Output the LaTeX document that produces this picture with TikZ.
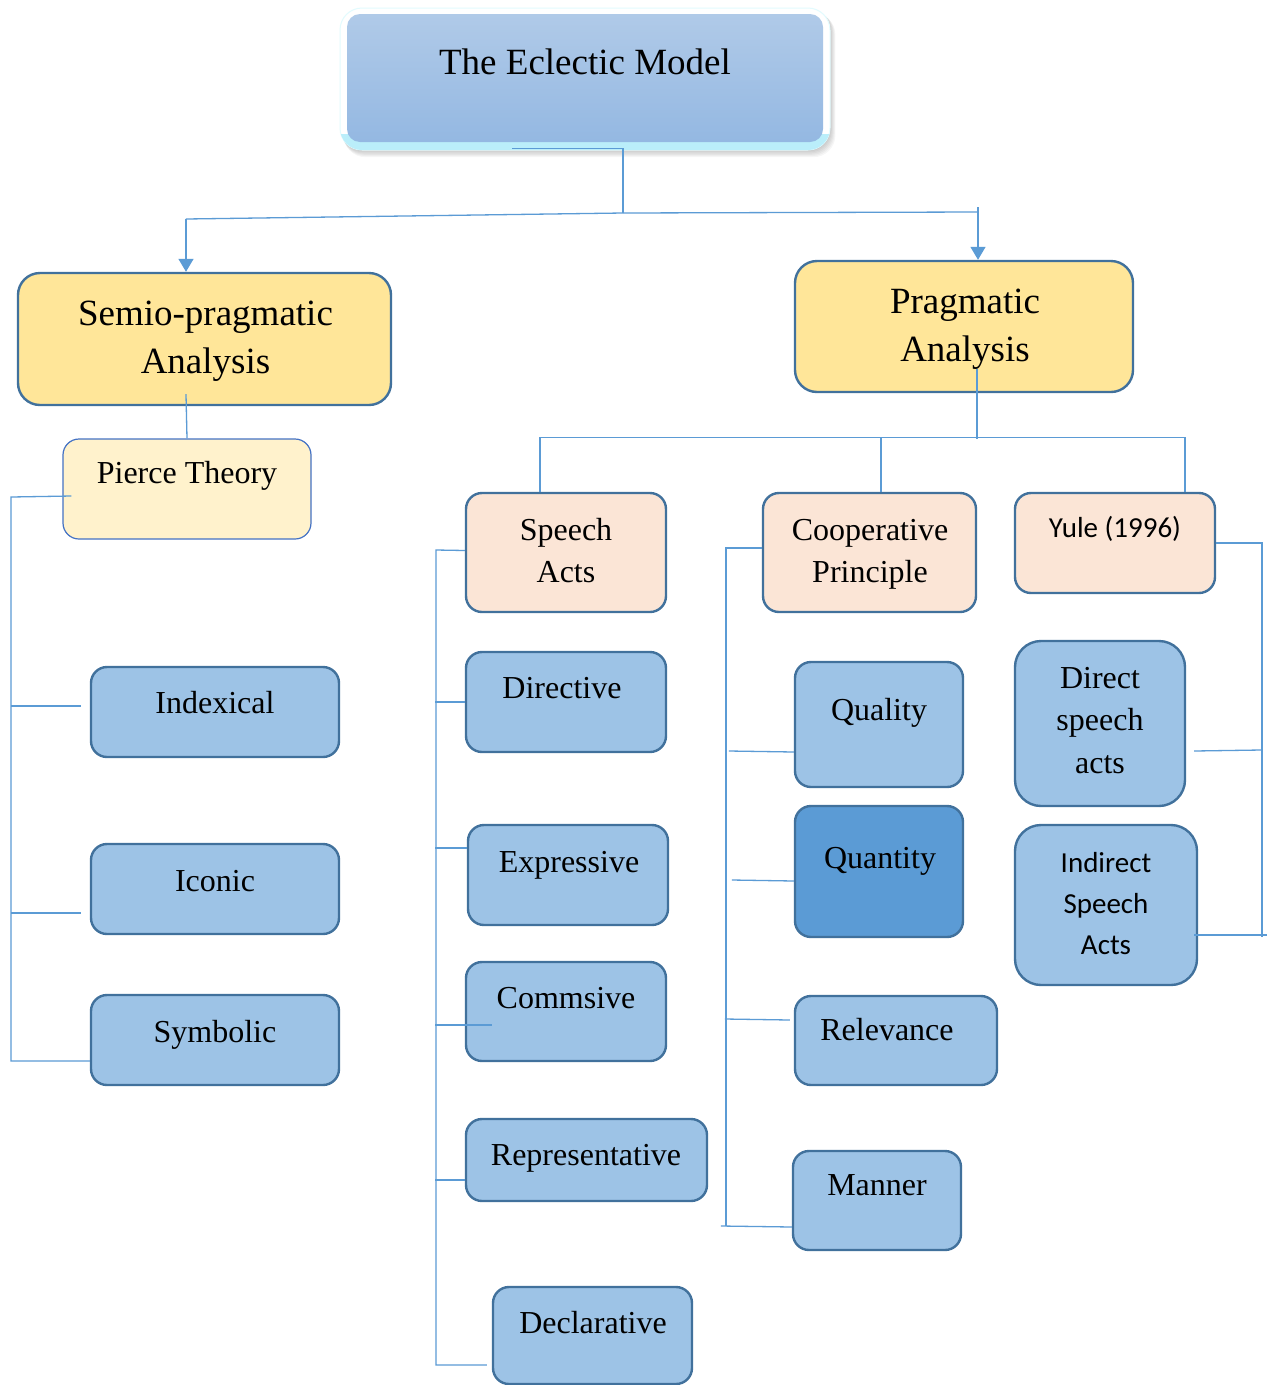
\documentclass[tikz,border=0pt]{standalone}
\usepackage{fontspec}
\setmainfont{Liberation Serif}
\newfontfamily\carl{Carlito}
\usetikzlibrary{arrows.meta,calc}
\definecolor{bordc}{HTML}{41719C}
\definecolor{linec}{HTML}{5B9BD5}
\definecolor{yellowc}{HTML}{FFE699}
\definecolor{lightyellowc}{HTML}{FFF2CC}
\definecolor{peachc}{HTML}{FBE5D6}
\definecolor{bluec}{HTML}{9DC3E6}
\definecolor{darkc}{HTML}{5B9BD5}
\definecolor{piercec}{HTML}{4472C4}
\definecolor{gradtop}{HTML}{B0CAE8}
\definecolor{gradbot}{HTML}{94B8E2}
\definecolor{glowc}{HTML}{E2FBFE}
\definecolor{glowbot}{HTML}{BAEEFA}
\tikzset{
  conn/.style={draw=linec, line width=1.3pt},
  arr/.style={conn, -{Triangle[width=15pt,length=13pt]}},
  boxbase/.style={draw=bordc, line width=2.4pt, rounded corners=16pt, inner sep=0pt},
  yellowbox/.style={boxbase, fill=yellowc, rounded corners=22pt},
  peachbox/.style={boxbase, fill=peachc},
  bluebox/.style={boxbase, fill=bluec},
  darkbox/.style={boxbase, fill=darkc},
  roundbox/.style={boxbase, fill=bluec, rounded corners=26pt},
  piercebox/.style={draw=piercec, line width=1.2pt, rounded corners=16pt, fill=lightyellowc, inner sep=0pt},
  bigtxt/.style={font=\fontsize{37}{48.5}\selectfont, anchor=base, inner sep=0pt},
  midtxt/.style={font=\fontsize{32}{42.5}\selectfont, anchor=base, inner sep=0pt},
  sanstxt/.style={font=\carl\fontsize{29}{41}\selectfont, anchor=base, inner sep=0pt},
}
\begin{document}
\begin{tikzpicture}[x=1pt,y=-1pt]
\fill[white] (0,0) rectangle (1269,1385);
\useasboundingbox (0,0) rectangle (1269,1385);
\begin{scope}
\clip (0,0) rectangle (1269,1385);

% ---------- top box ----------
\foreach \d in {1,2,3,4,5,6}{
  \fill[black, opacity=0.035, rounded corners=22pt] (340+0.6*\d,8+0.8*\d) rectangle (830+0.9*\d,150+1.2*\d);
}
\node[rounded corners=22pt, fill=white, draw=glowc, line width=1pt, minimum width=490pt, minimum height=142pt, inner sep=0pt] (top) at (585,79) {};
\begin{scope}
  \clip[rounded corners=22pt] (340,8) rectangle (830,150);
  \fill[glowbot] (340,134) rectangle (830,150);
\end{scope}
\node[rounded corners=13pt, top color=gradtop, bottom color=gradbot, minimum width=476pt, minimum height=128pt, inner sep=0pt] (topin) at (585,78) {};
\node[bigtxt] (ttop) at (585,74) {The Eclectic Model};

% ---------- level 1 ----------
\node[yellowbox, minimum width=373pt, minimum height=132pt] (semio) at (204.5,339) {};
\node[bigtxt] (tsemio) at (205.5,325) {\begin{tabular}[t]{@{}c@{}}Semio-pragmatic\\Analysis\end{tabular}};
\node[yellowbox, minimum width=338pt, minimum height=131pt] (prag) at (964,326.5) {};
\node[bigtxt] (tprag) at (965,313) {\begin{tabular}[t]{@{}c@{}}Pragmatic\\Analysis\end{tabular}};

% ---------- level 2 ----------
\node[piercebox, minimum width=248pt, minimum height=100pt] (pierce) at (187,489) {};
\node[midtxt] (tpierce) at (187,483) {Pierce Theory};
\node[peachbox, minimum width=200pt, minimum height=119pt] (speech) at (566,552.5) {};
\node[midtxt] (tspeech) at (566,540) {\begin{tabular}[t]{@{}c@{}}Speech\\Acts\end{tabular}};
\node[peachbox, minimum width=213pt, minimum height=119pt] (coop) at (869.5,552.5) {};
\node[midtxt] (tcoop) at (870,540) {\begin{tabular}[t]{@{}c@{}}Cooperative\\Principle\end{tabular}};
\node[peachbox, minimum width=200pt, minimum height=100pt] (yule) at (1115,543) {};
\node[sanstxt] (tyule) at (1115,537) {Yule (1996)};

% ---------- Pierce children ----------
\node[bluebox, minimum width=248pt, minimum height=90pt] (idx) at (215,712) {};
\node[midtxt] at (215,713) {Indexical};
\node[bluebox, minimum width=248pt, minimum height=90pt] (ico) at (215,889) {};
\node[midtxt] at (215,891) {Iconic};
\node[bluebox, minimum width=248pt, minimum height=90pt] (sym) at (215,1040) {};
\node[midtxt] at (215,1042) {Symbolic};

% ---------- Speech act children ----------
\node[bluebox, minimum width=200pt, minimum height=100pt] (dir) at (566,702) {};
\node[midtxt] at (562,698) {Directive};
\node[bluebox, minimum width=200pt, minimum height=100pt] (exp) at (568,875) {};
\node[midtxt] at (569,872) {Expressive};
\node[bluebox, minimum width=200pt, minimum height=99pt] (com) at (566,1011.5) {};
\node[midtxt] at (566,1008) {Commsive};
\node[bluebox, minimum width=241pt, minimum height=82pt] (rep) at (586.5,1160) {};
\node[midtxt] at (586,1165) {Representative};
\node[bluebox, minimum width=199pt, minimum height=97pt] (dec) at (592.5,1335.5) {};
\node[midtxt] at (593,1333) {Declarative};

% ---------- Cooperative children ----------
\node[bluebox, minimum width=168pt, minimum height=125pt] (qual) at (879,724.5) {};
\node[midtxt] at (879,720) {Quality};
\node[darkbox, minimum width=168pt, minimum height=131pt] (quan) at (879,871.5) {};
\node[midtxt] at (880,868) {Quantity};
\node[bluebox, minimum width=202pt, minimum height=89pt] (rel) at (896,1040.5) {};
\node[midtxt] at (887,1040) {Relevance};
\node[bluebox, minimum width=168pt, minimum height=99pt] (man) at (877,1200.5) {};
\node[midtxt] at (877,1195) {Manner};

% ---------- Yule children ----------
\node[roundbox, minimum width=170pt, minimum height=165pt] (dsa) at (1100,723.5) {};
\node[midtxt] at (1100,688) {\begin{tabular}[t]{@{}c@{}}Direct\\speech\\acts\end{tabular}};
\node[roundbox, minimum width=182pt, minimum height=160pt] (isa) at (1106,905) {};
\node[sanstxt] at (1106,872) {\begin{tabular}[t]{@{}c@{}}Indirect\\Speech\\Acts\end{tabular}};

% ---------- connectors ----------
\coordinate (hub) at (623,213);
\coordinate (lt) at (186,219);
\coordinate (rt) at (978,207);
\draw[conn] ($(top.south)+(-73,-2)$) -- ($(top.south)+(38,-2)$) -- (hub);
\draw[conn] (hub) -- (lt);
\draw[arr] (lt) -- (lt |- semio.north);
\draw[conn] (hub) -- (978,212);
\draw[arr] (rt) -- (rt |- prag.north);

% semio -> pierce
\draw[conn] ($(semio.south)+(-18.5,-12)$) -- (pierce.north);

% pierce bus
\coordinate (pbus) at (11,497);
\coordinate (pbot) at (11,1061);
\draw[conn] ($(pierce.west)+(9,7)$) -- (pbus) -- (pbot) -- ($(sym.west)+(0,21)$);
\draw[conn] ($(idx.west)+(-9,-6)$) -- (pbus |- {$(idx.west)+(-9,-6)$});
\draw[conn] ($(ico.west)+(-9,24)$) -- (pbus |- {$(ico.west)+(-9,24)$});

% pragmatic bar
\coordinate (pbar) at (977,439);
\draw[conn] ($(prag.south)+(13,-24)$) -- (pbar);
\draw[conn] ($(speech.north)+(-26,0)$) |- ($(yule.north)+(70,-54)$) -- ($(yule.north)+(70,0)$);
\draw[conn] ($(coop.north)+(11.5,0)$) -- ++(0,-54);

% speech acts bus
\coordinate (sbus) at (436,550);
\coordinate (sbot) at (436,1365);
\draw[conn] ($(speech.west)+(0,-2)$) -- (sbus) -- (sbot) -- ($(dec.west)+(-5,29.5)$);
\draw[conn] (dir.west) -- ++(-30,0);
\draw[conn] ($(exp.west)+(0,-27)$) -- ++(-32,0);
\draw[conn] ($(com.west)+(27,13.5)$) -- ++(-57,0);
\draw[conn] ($(rep.west)+(0,20)$) -- ++(-30,0);

% cooperative bus
\coordinate (cbus) at (726,548);
\coordinate (cbot) at (726,1226);
\draw[conn] ($(coop.west)+(0,-4.5)$) -- (cbus) -- (cbot);
\draw[conn] ($(qual.west)+(0,27.5)$) -- ++(-65,-1);
\draw[conn] ($(quan.west)+(0,9.5)$) -- ++(-62,-1);
\draw[conn] ($(rel.west)+(-4,-20.5)$) -- ++(-65,-1);
\draw[conn] ($(man.west)+(0,26.5)$) -- ++(-71,-1);

% yule bus
\coordinate (ybus) at (1262,543);
\coordinate (ybot) at (1262,937);
\draw[conn] (yule.east) -- (ybus) -- (ybot);
\draw[conn] ($(dsa.east)+(8,27.5)$) -- ++(67,-1);
\draw[conn] ($(isa.east)+(-4,30)$) -- ++(73,0);
\end{scope}
\end{tikzpicture}
\end{document}
